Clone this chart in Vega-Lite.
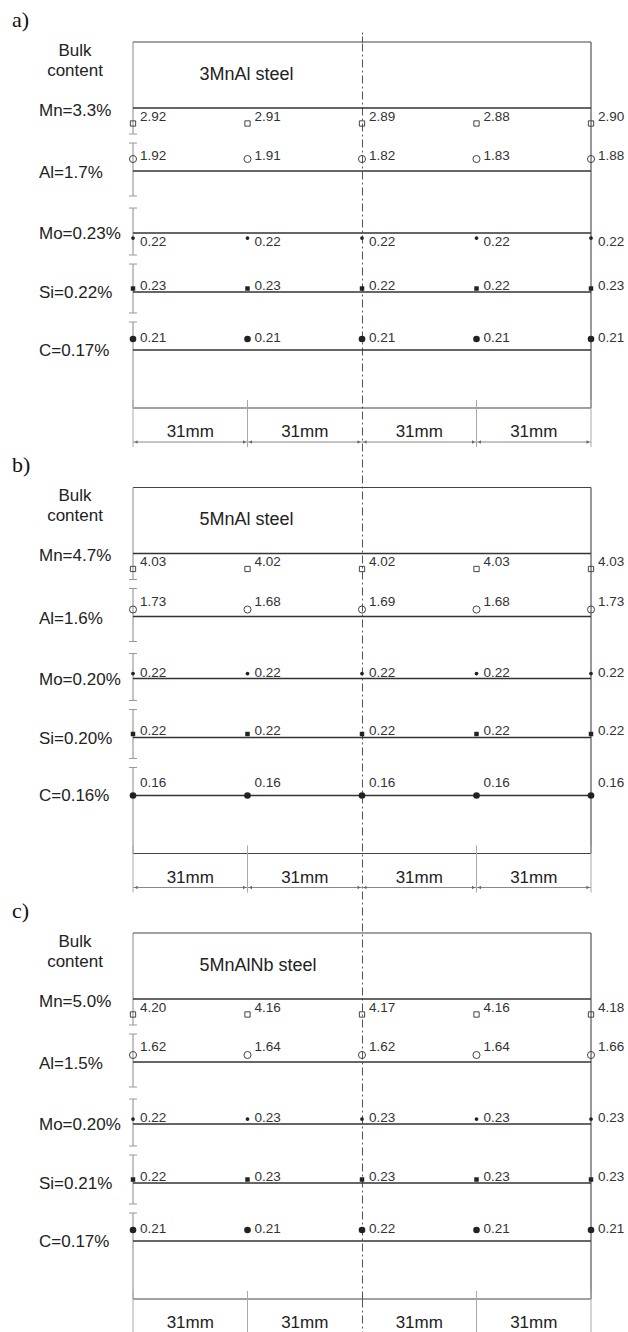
{
  "$schema": "https://vega.github.io/schema/vega-lite/v6.json",
  "autosize": "none",
  "padding": {"left": 133, "top": 42, "right": 37, "bottom": 33},
  "width": 458,
  "height": 1257,
  "background": "white",
  "config": {"view": {"stroke": null}, "font": "Liberation Sans"},
  "datasets": {
    "pts": [
      {"p": "a", "el": "Mn", "mm": 0, "v": 2.92}, {"p": "a", "el": "Mn", "mm": 31, "v": 2.91}, {"p": "a", "el": "Mn", "mm": 62, "v": 2.89}, {"p": "a", "el": "Mn", "mm": 93, "v": 2.88}, {"p": "a", "el": "Mn", "mm": 124, "v": 2.90},
      {"p": "a", "el": "Al", "mm": 0, "v": 1.92}, {"p": "a", "el": "Al", "mm": 31, "v": 1.91}, {"p": "a", "el": "Al", "mm": 62, "v": 1.82}, {"p": "a", "el": "Al", "mm": 93, "v": 1.83}, {"p": "a", "el": "Al", "mm": 124, "v": 1.88},
      {"p": "a", "el": "Mo", "mm": 0, "v": 0.22}, {"p": "a", "el": "Mo", "mm": 31, "v": 0.22}, {"p": "a", "el": "Mo", "mm": 62, "v": 0.22}, {"p": "a", "el": "Mo", "mm": 93, "v": 0.22}, {"p": "a", "el": "Mo", "mm": 124, "v": 0.22},
      {"p": "a", "el": "Si", "mm": 0, "v": 0.23}, {"p": "a", "el": "Si", "mm": 31, "v": 0.23}, {"p": "a", "el": "Si", "mm": 62, "v": 0.22}, {"p": "a", "el": "Si", "mm": 93, "v": 0.22}, {"p": "a", "el": "Si", "mm": 124, "v": 0.23},
      {"p": "a", "el": "C", "mm": 0, "v": 0.21}, {"p": "a", "el": "C", "mm": 31, "v": 0.21}, {"p": "a", "el": "C", "mm": 62, "v": 0.21}, {"p": "a", "el": "C", "mm": 93, "v": 0.21}, {"p": "a", "el": "C", "mm": 124, "v": 0.21},
      {"p": "b", "el": "Mn", "mm": 0, "v": 4.03}, {"p": "b", "el": "Mn", "mm": 31, "v": 4.02}, {"p": "b", "el": "Mn", "mm": 62, "v": 4.02}, {"p": "b", "el": "Mn", "mm": 93, "v": 4.03}, {"p": "b", "el": "Mn", "mm": 124, "v": 4.03},
      {"p": "b", "el": "Al", "mm": 0, "v": 1.73}, {"p": "b", "el": "Al", "mm": 31, "v": 1.68}, {"p": "b", "el": "Al", "mm": 62, "v": 1.69}, {"p": "b", "el": "Al", "mm": 93, "v": 1.68}, {"p": "b", "el": "Al", "mm": 124, "v": 1.73},
      {"p": "b", "el": "Mo", "mm": 0, "v": 0.22}, {"p": "b", "el": "Mo", "mm": 31, "v": 0.22}, {"p": "b", "el": "Mo", "mm": 62, "v": 0.22}, {"p": "b", "el": "Mo", "mm": 93, "v": 0.22}, {"p": "b", "el": "Mo", "mm": 124, "v": 0.22},
      {"p": "b", "el": "Si", "mm": 0, "v": 0.22}, {"p": "b", "el": "Si", "mm": 31, "v": 0.22}, {"p": "b", "el": "Si", "mm": 62, "v": 0.22}, {"p": "b", "el": "Si", "mm": 93, "v": 0.22}, {"p": "b", "el": "Si", "mm": 124, "v": 0.22},
      {"p": "b", "el": "C", "mm": 0, "v": 0.16}, {"p": "b", "el": "C", "mm": 31, "v": 0.16}, {"p": "b", "el": "C", "mm": 62, "v": 0.16}, {"p": "b", "el": "C", "mm": 93, "v": 0.16}, {"p": "b", "el": "C", "mm": 124, "v": 0.16},
      {"p": "c", "el": "Mn", "mm": 0, "v": 4.20}, {"p": "c", "el": "Mn", "mm": 31, "v": 4.16}, {"p": "c", "el": "Mn", "mm": 62, "v": 4.17}, {"p": "c", "el": "Mn", "mm": 93, "v": 4.16}, {"p": "c", "el": "Mn", "mm": 124, "v": 4.18},
      {"p": "c", "el": "Al", "mm": 0, "v": 1.62}, {"p": "c", "el": "Al", "mm": 31, "v": 1.64}, {"p": "c", "el": "Al", "mm": 62, "v": 1.62}, {"p": "c", "el": "Al", "mm": 93, "v": 1.64}, {"p": "c", "el": "Al", "mm": 124, "v": 1.66},
      {"p": "c", "el": "Mo", "mm": 0, "v": 0.22}, {"p": "c", "el": "Mo", "mm": 31, "v": 0.23}, {"p": "c", "el": "Mo", "mm": 62, "v": 0.23}, {"p": "c", "el": "Mo", "mm": 93, "v": 0.23}, {"p": "c", "el": "Mo", "mm": 124, "v": 0.23},
      {"p": "c", "el": "Si", "mm": 0, "v": 0.22}, {"p": "c", "el": "Si", "mm": 31, "v": 0.23}, {"p": "c", "el": "Si", "mm": 62, "v": 0.23}, {"p": "c", "el": "Si", "mm": 93, "v": 0.23}, {"p": "c", "el": "Si", "mm": 124, "v": 0.23},
      {"p": "c", "el": "C", "mm": 0, "v": 0.21}, {"p": "c", "el": "C", "mm": 31, "v": 0.21}, {"p": "c", "el": "C", "mm": 62, "v": 0.22}, {"p": "c", "el": "C", "mm": 93, "v": 0.21}, {"p": "c", "el": "C", "mm": 124, "v": 0.21}
    ],
    "bulk": [
      {"p": "a", "el": "Mn", "txt": "Mn=3.3%"}, {"p": "a", "el": "Al", "txt": "Al=1.7%"}, {"p": "a", "el": "Mo", "txt": "Mo=0.23%"}, {"p": "a", "el": "Si", "txt": "Si=0.22%"}, {"p": "a", "el": "C", "txt": "C=0.17%"},
      {"p": "b", "el": "Mn", "txt": "Mn=4.7%"}, {"p": "b", "el": "Al", "txt": "Al=1.6%"}, {"p": "b", "el": "Mo", "txt": "Mo=0.20%"}, {"p": "b", "el": "Si", "txt": "Si=0.20%"}, {"p": "b", "el": "C", "txt": "C=0.16%"},
      {"p": "c", "el": "Mn", "txt": "Mn=5.0%"}, {"p": "c", "el": "Al", "txt": "Al=1.5%"}, {"p": "c", "el": "Mo", "txt": "Mo=0.20%"}, {"p": "c", "el": "Si", "txt": "Si=0.21%"}, {"p": "c", "el": "C", "txt": "C=0.17%"}
    ],
    "steel": [
      {"p": "a", "tag": "a)", "name": "3MnAl steel"}, {"p": "b", "tag": "b)", "name": "5MnAl steel"}, {"p": "c", "tag": "c)", "name": "5MnAlNb steel"}
    ]
  },
  "resolve": {"axis": {"x": "independent"}},
  "layer": [
    {"data": {"name": "steel"},
     "mark": {"type": "rule", "color": "#444", "strokeWidth": 1.2},
     "encoding": {
       "x": {"datum": 0, "type": "quantitative", "scale": {"domain": [0, 124], "nice": false, "zero": false},
             "axis": {"orient": "top", "values": [62], "domain": false, "labels": false, "ticks": true, "tickSize": 10, "tickColor": "#555", "tickDash": [6, 2, 2, 2], "grid": false, "title": null}},
       "x2": {"datum": 124},
       "y": {"field": "p", "type": "nominal", "bandPosition": 0, "axis": null,
             "scale": {"type": "band", "domain": ["a", "b", "c"], "paddingInner": 0.17845, "paddingOuter": 0, "round": false}}
     }},
    {"data": {"name": "steel"},
     "mark": {"type": "rule", "color": "#444", "strokeWidth": 1.2},
     "encoding": {
       "x": {"datum": 0, "type": "quantitative",
             "axis": {"orient": "bottom", "values": [62], "domain": false, "labels": false, "ticks": true, "tickSize": 33, "tickColor": "#555", "tickDash": [8, 3, 2, 3], "grid": true, "gridColor": "#555", "gridDash": [8, 3, 2, 3], "gridWidth": 1, "gridOpacity": 1, "title": null}},
       "x2": {"datum": 124},
       "y": {"field": "p", "type": "nominal", "bandPosition": 1, "axis": null}
     }},
    {"data": {"name": "steel"},
     "mark": {"type": "tick", "orient": "vertical", "size": 366, "thickness": 1.2, "color": "#555", "opacity": 1},
     "encoding": {"x": {"datum": 124, "type": "quantitative", "axis": null}, "y": {"field": "p", "type": "nominal", "bandPosition": 0.5, "axis": null}}},
    {"data": {"name": "steel"},
     "mark": {"type": "point", "shape": "M0,-1L0,1", "filled": false, "color": "#888", "strokeWidth": 1, "size": 8464, "opacity": 1},
     "encoding": {"x": {"datum": 0, "type": "quantitative", "axis": null}, "y": {"field": "p", "type": "nominal", "bandPosition": 0.1257, "axis": null}}},
    {"data": {"name": "steel"},
     "mark": {"type": "point", "shape": "M0,-1L0,1", "filled": false, "color": "#888", "strokeWidth": 1, "size": 2809, "opacity": 1},
     "encoding": {"x": {"datum": 0, "type": "quantitative", "axis": null}, "y": {"field": "p", "type": "nominal", "bandPosition": 0.3484, "axis": null}}},
    {"data": {"name": "steel"},
     "mark": {"type": "point", "shape": "M0,-1L0,1", "filled": false, "color": "#888", "strokeWidth": 1, "size": 2209, "opacity": 1},
     "encoding": {"x": {"datum": 0, "type": "quantitative", "axis": null}, "y": {"field": "p", "type": "nominal", "bandPosition": 0.5178, "axis": null}}},
    {"data": {"name": "steel"},
     "mark": {"type": "point", "shape": "M0,-1L0,1", "filled": false, "color": "#888", "strokeWidth": 1, "size": 2401, "opacity": 1},
     "encoding": {"x": {"datum": 0, "type": "quantitative", "axis": null}, "y": {"field": "p", "type": "nominal", "bandPosition": 0.6735, "axis": null}}},
    {"data": {"name": "steel"},
     "mark": {"type": "point", "shape": "M0,-1L0,1", "filled": false, "color": "#888", "strokeWidth": 1, "size": 7396, "opacity": 1},
     "encoding": {"x": {"datum": 0, "type": "quantitative", "axis": null}, "y": {"field": "p", "type": "nominal", "bandPosition": 0.8825, "axis": null}}},
    {"data": {"name": "steel"}, "mark": {"type": "point", "shape": "stroke", "filled": false, "color": "#999", "strokeWidth": 1, "size": 64, "opacity": 1},
     "encoding": {"x": {"datum": 0, "type": "quantitative", "axis": null}, "y": {"field": "p", "type": "nominal", "bandPosition": 0.2514, "axis": null}}},
    {"data": {"name": "steel"}, "mark": {"type": "point", "shape": "stroke", "filled": false, "color": "#999", "strokeWidth": 1, "size": 64, "opacity": 1},
     "encoding": {"x": {"datum": 0, "type": "quantitative", "axis": null}, "y": {"field": "p", "type": "nominal", "bandPosition": 0.2760, "axis": null}}},
    {"data": {"name": "steel"}, "mark": {"type": "point", "shape": "stroke", "filled": false, "color": "#999", "strokeWidth": 1, "size": 64, "opacity": 1},
     "encoding": {"x": {"datum": 0, "type": "quantitative", "axis": null}, "y": {"field": "p", "type": "nominal", "bandPosition": 0.4208, "axis": null}}},
    {"data": {"name": "steel"}, "mark": {"type": "point", "shape": "stroke", "filled": false, "color": "#999", "strokeWidth": 1, "size": 64, "opacity": 1},
     "encoding": {"x": {"datum": 0, "type": "quantitative", "axis": null}, "y": {"field": "p", "type": "nominal", "bandPosition": 0.4536, "axis": null}}},
    {"data": {"name": "steel"}, "mark": {"type": "point", "shape": "stroke", "filled": false, "color": "#999", "strokeWidth": 1, "size": 64, "opacity": 1},
     "encoding": {"x": {"datum": 0, "type": "quantitative", "axis": null}, "y": {"field": "p", "type": "nominal", "bandPosition": 0.5820, "axis": null}}},
    {"data": {"name": "steel"}, "mark": {"type": "point", "shape": "stroke", "filled": false, "color": "#999", "strokeWidth": 1, "size": 64, "opacity": 1},
     "encoding": {"x": {"datum": 0, "type": "quantitative", "axis": null}, "y": {"field": "p", "type": "nominal", "bandPosition": 0.6066, "axis": null}}},
    {"data": {"name": "steel"}, "mark": {"type": "point", "shape": "stroke", "filled": false, "color": "#999", "strokeWidth": 1, "size": 64, "opacity": 1},
     "encoding": {"x": {"datum": 0, "type": "quantitative", "axis": null}, "y": {"field": "p", "type": "nominal", "bandPosition": 0.7404, "axis": null}}},
    {"data": {"name": "steel"}, "mark": {"type": "point", "shape": "stroke", "filled": false, "color": "#999", "strokeWidth": 1, "size": 64, "opacity": 1},
     "encoding": {"x": {"datum": 0, "type": "quantitative", "axis": null}, "y": {"field": "p", "type": "nominal", "bandPosition": 0.7650, "axis": null}}},
    {"data": {"name": "steel"},
     "mark": {"type": "text", "align": "left", "baseline": "alphabetic", "dx": -121, "dy": -15, "font": "Liberation Serif", "fontSize": 22, "color": "#111"},
     "encoding": {"x": {"datum": 0, "type": "quantitative", "axis": null}, "y": {"field": "p", "type": "nominal", "bandPosition": 0, "axis": null}, "text": {"field": "tag"}}},
    {"data": {"name": "steel"},
     "mark": {"type": "text", "align": "left", "baseline": "middle", "dy": 33, "fontSize": 18, "color": "#222"},
     "encoding": {"x": {"datum": 18, "type": "quantitative", "axis": null}, "y": {"field": "p", "type": "nominal", "bandPosition": 0, "axis": null}, "text": {"field": "name"}}},
    {"data": {"name": "steel"},
     "mark": {"type": "text", "align": "center", "baseline": "alphabetic", "dx": -58, "dy": 14, "fontSize": 17, "lineHeight": 20, "color": "#222"},
     "encoding": {"x": {"datum": 0, "type": "quantitative", "axis": null}, "y": {"field": "p", "type": "nominal", "bandPosition": 0, "axis": null}, "text": {"value": ["Bulk", "content"]}}},

    {"data": {"name": "bulk"}, "transform": [{"filter": "datum.el == 'Mn'"}],
     "mark": {"type": "rule", "color": "#333", "strokeWidth": 1.3},
     "encoding": {"x": {"datum": 0, "type": "quantitative", "axis": null}, "x2": {"datum": 124}, "y": {"field": "p", "type": "nominal", "bandPosition": 0.1803, "axis": null}}},
    {"data": {"name": "bulk"}, "transform": [{"filter": "datum.el == 'Al'"}],
     "mark": {"type": "rule", "color": "#333", "strokeWidth": 1.3},
     "encoding": {"x": {"datum": 0, "type": "quantitative", "axis": null}, "x2": {"datum": 124}, "y": {"field": "p", "type": "nominal", "bandPosition": 0.3525, "axis": null}}},
    {"data": {"name": "bulk"}, "transform": [{"filter": "datum.el == 'Mo'"}],
     "mark": {"type": "rule", "color": "#333", "strokeWidth": 1.3},
     "encoding": {"x": {"datum": 0, "type": "quantitative", "axis": null}, "x2": {"datum": 124}, "y": {"field": "p", "type": "nominal", "bandPosition": 0.5219, "axis": null}}},
    {"data": {"name": "bulk"}, "transform": [{"filter": "datum.el == 'Si'"}],
     "mark": {"type": "rule", "color": "#333", "strokeWidth": 1.3},
     "encoding": {"x": {"datum": 0, "type": "quantitative", "axis": null}, "x2": {"datum": 124}, "y": {"field": "p", "type": "nominal", "bandPosition": 0.6831, "axis": null}}},
    {"data": {"name": "bulk"}, "transform": [{"filter": "datum.el == 'C'"}],
     "mark": {"type": "rule", "color": "#333", "strokeWidth": 1.3},
     "encoding": {"x": {"datum": 0, "type": "quantitative", "axis": null}, "x2": {"datum": 124}, "y": {"field": "p", "type": "nominal", "bandPosition": 0.8415, "axis": null}}},

    {"data": {"name": "bulk"}, "transform": [{"filter": "datum.el == 'Mn'"}],
     "mark": {"type": "text", "align": "left", "baseline": "middle", "dx": -94, "dy": 3, "fontSize": 17, "color": "#222"},
     "encoding": {"x": {"datum": 0, "type": "quantitative", "axis": null}, "y": {"field": "p", "type": "nominal", "bandPosition": 0.1803, "axis": null}, "text": {"field": "txt"}}},
    {"data": {"name": "bulk"}, "transform": [{"filter": "datum.el == 'Al'"}],
     "mark": {"type": "text", "align": "left", "baseline": "middle", "dx": -94, "dy": 2, "fontSize": 17, "color": "#222"},
     "encoding": {"x": {"datum": 0, "type": "quantitative", "axis": null}, "y": {"field": "p", "type": "nominal", "bandPosition": 0.3525, "axis": null}, "text": {"field": "txt"}}},
    {"data": {"name": "bulk"}, "transform": [{"filter": "datum.el == 'Mo'"}],
     "mark": {"type": "text", "align": "left", "baseline": "middle", "dx": -94, "dy": 1, "fontSize": 17, "color": "#222"},
     "encoding": {"x": {"datum": 0, "type": "quantitative", "axis": null}, "y": {"field": "p", "type": "nominal", "bandPosition": 0.5219, "axis": null}, "text": {"field": "txt"}}},
    {"data": {"name": "bulk"}, "transform": [{"filter": "datum.el == 'Si'"}],
     "mark": {"type": "text", "align": "left", "baseline": "middle", "dx": -94, "dy": 1, "fontSize": 17, "color": "#222"},
     "encoding": {"x": {"datum": 0, "type": "quantitative", "axis": null}, "y": {"field": "p", "type": "nominal", "bandPosition": 0.6831, "axis": null}, "text": {"field": "txt"}}},
    {"data": {"name": "bulk"}, "transform": [{"filter": "datum.el == 'C'"}],
     "mark": {"type": "text", "align": "left", "baseline": "middle", "dx": -94, "dy": 1, "fontSize": 17, "color": "#222"},
     "encoding": {"x": {"datum": 0, "type": "quantitative", "axis": null}, "y": {"field": "p", "type": "nominal", "bandPosition": 0.8415, "axis": null}, "text": {"field": "txt"}}},

    {"data": {"name": "pts"}, "transform": [{"filter": "datum.el == 'Mn'"}],
     "mark": {"type": "point", "shape": "square", "filled": false, "stroke": "#444", "strokeWidth": 1, "size": 28, "opacity": 1, "yOffset": 15.5},
     "encoding": {"x": {"field": "mm", "type": "quantitative", "axis": null}, "y": {"field": "p", "type": "nominal", "bandPosition": 0.1803, "axis": null}}},
    {"data": {"name": "pts"}, "transform": [{"filter": "datum.el == 'Mn'"}],
     "mark": {"type": "text", "align": "left", "baseline": "middle", "dx": 7, "dy": 9, "fontSize": 13.5, "color": "#333"},
     "encoding": {"x": {"field": "mm", "type": "quantitative", "axis": null}, "y": {"field": "p", "type": "nominal", "bandPosition": 0.1803, "axis": null}, "text": {"field": "v", "type": "quantitative", "format": ".2f"}}},

    {"data": {"name": "pts"}, "transform": [{"filter": "datum.el == 'Al' && datum.p == 'a'"}],
     "mark": {"type": "point", "shape": "circle", "filled": false, "stroke": "#444", "strokeWidth": 1, "size": 50, "opacity": 1, "yOffset": -12},
     "encoding": {"x": {"field": "mm", "type": "quantitative", "axis": null}, "y": {"field": "p", "type": "nominal", "bandPosition": 0.3525, "axis": null}}},
    {"data": {"name": "pts"}, "transform": [{"filter": "datum.el == 'Al' && datum.p != 'a'"}],
     "mark": {"type": "point", "shape": "circle", "filled": false, "stroke": "#444", "strokeWidth": 1, "size": 50, "opacity": 1, "yOffset": -7},
     "encoding": {"x": {"field": "mm", "type": "quantitative", "axis": null}, "y": {"field": "p", "type": "nominal", "bandPosition": 0.3525, "axis": null}}},
    {"data": {"name": "pts"}, "transform": [{"filter": "datum.el == 'Al'"}],
     "mark": {"type": "text", "align": "left", "baseline": "middle", "dx": 7, "dy": -15, "fontSize": 13.5, "color": "#333"},
     "encoding": {"x": {"field": "mm", "type": "quantitative", "axis": null}, "y": {"field": "p", "type": "nominal", "bandPosition": 0.3525, "axis": null}, "text": {"field": "v", "type": "quantitative", "format": ".2f"}}},

    {"data": {"name": "pts"}, "transform": [{"filter": "datum.el == 'Mo' && datum.p == 'a'"}],
     "mark": {"type": "point", "shape": "circle", "filled": true, "color": "#222", "size": 14, "opacity": 1, "yOffset": 5},
     "encoding": {"x": {"field": "mm", "type": "quantitative", "axis": null}, "y": {"field": "p", "type": "nominal", "bandPosition": 0.5219, "axis": null}}},
    {"data": {"name": "pts"}, "transform": [{"filter": "datum.el == 'Mo' && datum.p != 'a'"}],
     "mark": {"type": "point", "shape": "circle", "filled": true, "color": "#222", "size": 14, "opacity": 1, "yOffset": -5},
     "encoding": {"x": {"field": "mm", "type": "quantitative", "axis": null}, "y": {"field": "p", "type": "nominal", "bandPosition": 0.5219, "axis": null}}},
    {"data": {"name": "pts"}, "transform": [{"filter": "datum.el == 'Mo' && datum.p == 'a'"}],
     "mark": {"type": "text", "align": "left", "baseline": "middle", "dx": 7, "dy": 9, "fontSize": 13.5, "color": "#333"},
     "encoding": {"x": {"field": "mm", "type": "quantitative", "axis": null}, "y": {"field": "p", "type": "nominal", "bandPosition": 0.5219, "axis": null}, "text": {"field": "v", "type": "quantitative", "format": ".2f"}}},
    {"data": {"name": "pts"}, "transform": [{"filter": "datum.el == 'Mo' && datum.p != 'a'"}],
     "mark": {"type": "text", "align": "left", "baseline": "middle", "dx": 7, "dy": -6, "fontSize": 13.5, "color": "#333"},
     "encoding": {"x": {"field": "mm", "type": "quantitative", "axis": null}, "y": {"field": "p", "type": "nominal", "bandPosition": 0.5219, "axis": null}, "text": {"field": "v", "type": "quantitative", "format": ".2f"}}},

    {"data": {"name": "pts"}, "transform": [{"filter": "datum.el == 'Si'"}],
     "mark": {"type": "point", "shape": "square", "filled": true, "color": "#222", "size": 20, "opacity": 1, "yOffset": -3.5},
     "encoding": {"x": {"field": "mm", "type": "quantitative", "axis": null}, "y": {"field": "p", "type": "nominal", "bandPosition": 0.6831, "axis": null}}},
    {"data": {"name": "pts"}, "transform": [{"filter": "datum.el == 'Si'"}],
     "mark": {"type": "text", "align": "left", "baseline": "middle", "dx": 7, "dy": -6.5, "fontSize": 13.5, "color": "#333"},
     "encoding": {"x": {"field": "mm", "type": "quantitative", "axis": null}, "y": {"field": "p", "type": "nominal", "bandPosition": 0.6831, "axis": null}, "text": {"field": "v", "type": "quantitative", "format": ".2f"}}},

    {"data": {"name": "pts"}, "transform": [{"filter": "datum.el == 'C' && datum.p != 'b'"}],
     "mark": {"type": "point", "shape": "circle", "filled": true, "color": "#222", "size": 44, "opacity": 1, "yOffset": -11},
     "encoding": {"x": {"field": "mm", "type": "quantitative", "axis": null}, "y": {"field": "p", "type": "nominal", "bandPosition": 0.8415, "axis": null}}},
    {"data": {"name": "pts"}, "transform": [{"filter": "datum.el == 'C' && datum.p == 'b'"}],
     "mark": {"type": "point", "shape": "circle", "filled": true, "color": "#222", "size": 44, "opacity": 1, "yOffset": 0},
     "encoding": {"x": {"field": "mm", "type": "quantitative", "axis": null}, "y": {"field": "p", "type": "nominal", "bandPosition": 0.8415, "axis": null}}},
    {"data": {"name": "pts"}, "transform": [{"filter": "datum.el == 'C'"}],
     "mark": {"type": "text", "align": "left", "baseline": "middle", "dx": 7, "dy": -12, "fontSize": 13.5, "color": "#333"},
     "encoding": {"x": {"field": "mm", "type": "quantitative", "axis": null}, "y": {"field": "p", "type": "nominal", "bandPosition": 0.8415, "axis": null}, "text": {"field": "v", "type": "quantitative", "format": ".2f"}}},

    {"data": {"name": "steel"}, "transform": [{"filter": "datum.p != 'c'"}],
     "mark": {"type": "rule", "color": "#888", "strokeWidth": 1, "yOffset": 34},
     "encoding": {"x": {"datum": 0, "type": "quantitative", "axis": null}, "x2": {"datum": 124}, "y": {"field": "p", "type": "nominal", "bandPosition": 1, "axis": null}}},
    {"data": {"name": "pts"}, "transform": [{"filter": "datum.el == 'Mn' && datum.mm != 62 && datum.p != 'c'"}],
     "mark": {"type": "point", "shape": "M0,-1L0,1", "filled": false, "color": "#aaa", "strokeWidth": 1, "size": 2209, "opacity": 1, "yOffset": 15.5},
     "encoding": {"x": {"field": "mm", "type": "quantitative", "axis": null}, "y": {"field": "p", "type": "nominal", "bandPosition": 1, "axis": null}}},
    {"data": {"name": "pts"}, "transform": [{"filter": "datum.el == 'Mn' && datum.mm != 62 && datum.p == 'c'"}],
     "mark": {"type": "point", "shape": "M0,-1L0,1", "filled": false, "color": "#aaa", "strokeWidth": 1, "size": 1681, "opacity": 1, "yOffset": 12.5},
     "encoding": {"x": {"field": "mm", "type": "quantitative", "axis": null}, "y": {"field": "p", "type": "nominal", "bandPosition": 1, "axis": null}}},
    {"data": {"name": "pts"}, "transform": [{"filter": "datum.el == 'Mn' && datum.mm > 0 && datum.p != 'c'"}],
     "mark": {"type": "point", "shape": "triangle-right", "filled": true, "color": "#666", "size": 12, "opacity": 1, "xOffset": -3, "yOffset": 34},
     "encoding": {"x": {"field": "mm", "type": "quantitative", "axis": null}, "y": {"field": "p", "type": "nominal", "bandPosition": 1, "axis": null}}},
    {"data": {"name": "pts"}, "transform": [{"filter": "datum.el == 'Mn' && datum.mm < 124 && datum.p != 'c'"}],
     "mark": {"type": "point", "shape": "triangle-left", "filled": true, "color": "#666", "size": 12, "opacity": 1, "xOffset": 3, "yOffset": 34},
     "encoding": {"x": {"field": "mm", "type": "quantitative", "axis": null}, "y": {"field": "p", "type": "nominal", "bandPosition": 1, "axis": null}}},
    {"data": {"name": "pts"}, "transform": [{"filter": "datum.el == 'Mn' && datum.mm < 124"}],
     "mark": {"type": "text", "align": "center", "baseline": "middle", "dx": 57.25, "dy": 24, "fontSize": 17, "color": "#222"},
     "encoding": {"x": {"field": "mm", "type": "quantitative", "axis": null}, "y": {"field": "p", "type": "nominal", "bandPosition": 1, "axis": null}, "text": {"value": "31mm"}}}
  ]
}
